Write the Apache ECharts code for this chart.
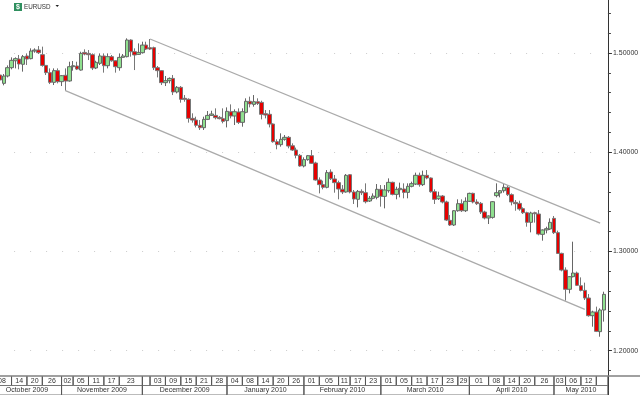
<!DOCTYPE html>
<html>
<head>
<meta charset="utf-8">
<style>html,body{margin:0;padding:0;background:#fff}#main{width:640px;height:395px}</style>
<script src="https://cdn.jsdelivr.net/npm/echarts@6/dist/echarts.min.js"></script>
</head>
<body>
<div id="main"></div>
<script>
// EURUSD daily candles
var opens = [1.4778,1.4694,1.4768,1.4852,1.4922,1.4939,1.4886,1.4970,1.4943,1.5020,1.5030,1.4983,1.4875,1.4802,1.4704,1.4822,1.4711,1.4775,1.4718,1.4862,1.4869,1.4828,1.5006,1.4996,1.4983,1.4849,1.4896,1.4970,1.4872,1.4963,1.4922,1.4852,1.4956,1.4963,1.5131,1.5013,1.4986,1.5003,1.5080,1.5054,
  1.5054,1.4852,1.4822,1.4701,1.4721,1.4744,1.4607,1.4654,1.4543,1.4533,1.4341,1.4324,1.4271,1.4247,1.4331,1.4371,1.4371,1.4351,1.4338,1.4318,1.4408,1.4365,1.4405,1.4301,1.4402,1.4513,1.4482,1.4509,1.4502,1.4388,
  1.4382,1.4284,1.4106,1.4076,1.4130,1.4150,1.4065,1.4022,1.3968,1.3861,1.3925,1.3965,1.3891,1.3720,1.3673,1.3646,1.3800,1.3730,1.3693,1.3626,1.3599,1.3773,1.3599,1.3525,1.3605,1.3592,1.3508,1.3535,1.3545,1.3626,
  1.3555,1.3612,1.3696,1.3575,1.3622,1.3629,1.3595,1.3656,1.3679,1.3767,1.3673,1.3767,1.3740,1.3602,1.3531,1.3558,1.3498,1.3313,1.3266,1.3410,1.3481,1.3410,1.3505,1.3585,1.3498,1.3484,1.3397,1.3337,1.3343,1.3562,
  1.3589,1.3612,1.3646,1.3572,1.3494,1.3484,1.3431,1.3390,1.3293,1.3390,1.3377,1.3172,1.3216,1.3226,1.3333,1.3189,1.2980,1.2812,1.2618,1.2745,1.2782,1.2654,1.2607,1.2530,1.2352,1.2389,1.2191,1.2409];
var closes = [1.4728,1.4768,1.4852,1.4926,1.4943,1.4889,1.4963,1.4939,1.5020,1.5030,1.5003,1.4875,1.4802,1.4704,1.4822,1.4711,1.4771,1.4718,1.4862,1.4872,1.4838,1.4996,1.4990,1.4983,1.4849,1.4906,1.4970,1.4872,1.4963,1.4922,1.4862,1.4956,1.4970,1.5131,1.5013,1.4980,1.5006,1.5080,1.5040,1.5040,
  1.4852,1.4822,1.4701,1.4721,1.4744,1.4607,1.4654,1.4533,1.4533,1.4341,1.4324,1.4271,1.4247,1.4331,1.4371,1.4385,1.4348,1.4338,1.4311,1.4412,1.4365,1.4408,1.4301,1.4408,1.4513,1.4486,1.4509,1.4492,1.4382,1.4375,
  1.4284,1.4106,1.4076,1.4130,1.4150,1.4062,1.4022,1.3968,1.3861,1.3925,1.3965,1.3888,1.3720,1.3673,1.3646,1.3794,1.3733,1.3693,1.3629,1.3599,1.3767,1.3599,1.3528,1.3605,1.3592,1.3501,1.3535,1.3558,1.3626,1.3555,
  1.3619,1.3696,1.3575,1.3626,1.3636,1.3595,1.3656,1.3683,1.3767,1.3673,1.3767,1.3740,1.3602,1.3525,1.3558,1.3498,1.3316,1.3266,1.3410,1.3481,1.3410,1.3505,1.3585,1.3498,1.3481,1.3397,1.3337,1.3357,1.3501,1.3592,
  1.3612,1.3646,1.3572,1.3498,1.3481,1.3427,1.3390,1.3293,1.3387,1.3380,1.3175,1.3216,1.3229,1.3293,1.3189,1.2980,1.2812,1.2618,1.2745,1.2782,1.2658,1.2607,1.2530,1.2352,1.2389,1.2194,1.2409,1.2567];
var lows = [1.4711,1.4674,1.4754,1.4835,1.4845,1.4835,1.4812,1.4879,1.4936,1.5003,1.4990,1.4862,1.4778,1.4687,1.4677,1.4694,1.4667,1.4620,1.4711,1.4822,1.4828,1.4822,1.4976,1.4929,1.4828,1.4838,1.4879,1.4802,1.4845,1.4912,1.4802,1.4822,1.4956,1.4956,1.4963,1.4828,1.4980,1.4996,1.5030,1.5030,
  1.4828,1.4754,1.4677,1.4667,1.4694,1.4576,1.4593,1.4499,1.4509,1.4298,1.4298,1.4250,1.4224,1.4224,1.4324,1.4365,1.4331,1.4331,1.4291,1.4250,1.4341,1.4274,1.4284,1.4257,1.4392,1.4452,1.4459,1.4476,1.4331,1.4341,
  1.4250,1.4096,1.4029,1.4056,1.4116,1.4039,1.4012,1.3938,1.3854,1.3847,1.3914,1.3881,1.3713,1.3585,1.3626,1.3636,1.3720,1.3592,1.3525,1.3578,1.3592,1.3585,1.3478,1.3444,1.3568,1.3484,1.3498,1.3525,1.3525,1.3451,
  1.3434,1.3592,1.3565,1.3525,1.3545,1.3535,1.3535,1.3646,1.3669,1.3652,1.3659,1.3727,1.3592,1.3478,1.3518,1.3484,1.3306,1.3256,1.3256,1.3400,1.3397,1.3397,1.3498,1.3484,1.3468,1.3377,1.3323,1.3276,1.3330,1.3545,
  1.3545,1.3592,1.3558,1.3464,1.3410,1.3410,1.3377,1.3249,1.3192,1.3290,1.3162,1.3108,1.3182,1.3216,1.3175,1.2974,1.2799,1.2503,1.2577,1.2738,1.2651,1.2597,1.2510,1.2342,1.2241,1.2187,1.2140,1.2292];
var highs = [1.4795,1.4788,1.4875,1.4956,1.4956,1.4980,1.4980,1.4996,1.5047,1.5047,1.5070,1.5064,1.4879,1.4845,1.4845,1.4845,1.4778,1.4845,1.4912,1.4919,1.4912,1.5013,1.5037,1.5030,1.4996,1.4922,1.4996,1.4996,1.4996,1.4980,1.4929,1.4996,1.4990,1.5148,1.5138,1.5047,1.5097,1.5114,1.5114,1.5141,
  1.5064,1.4869,1.4828,1.4768,1.4754,1.4778,1.4667,1.4667,1.4576,1.4543,1.4392,1.4358,1.4324,1.4358,1.4415,1.4418,1.4442,1.4365,1.4442,1.4452,1.4482,1.4432,1.4442,1.4442,1.4543,1.4560,1.4576,1.4543,1.4519,1.4425,
  1.4425,1.4291,1.4130,1.4190,1.4173,1.4163,1.4089,1.4046,1.3982,1.3948,1.3972,1.4022,1.3904,1.3746,1.3713,1.3820,1.3827,1.3770,1.3713,1.3669,1.3780,1.3780,1.3619,1.3619,1.3626,1.3686,1.3558,1.3585,1.3679,1.3669,
  1.3669,1.3736,1.3703,1.3652,1.3693,1.3686,1.3686,1.3703,1.3794,1.3794,1.3814,1.3820,1.3746,1.3626,1.3602,1.3568,1.3511,1.3367,1.3417,1.3525,1.3525,1.3545,1.3592,1.3592,1.3525,1.3498,1.3410,1.3363,1.3508,1.3686,
  1.3619,1.3679,1.3669,1.3585,1.3518,1.3511,1.3444,1.3400,1.3400,1.3400,1.3417,1.3222,1.3249,1.3333,1.3357,1.3209,1.2987,1.2839,1.2752,1.3098,1.2796,1.2738,1.2685,1.2570,1.2402,1.2443,1.2426,1.2594];

// channel lines: [candle index, price]
var upperChannel = [[39, 1.5141], [156, 1.3286]];
var lowerChannel = [[17, 1.4620], [152, 1.2416]];

// date strip: each cell starts at a candle index
var dayLabels = ['08','14','20','26','02','05','11','17','23','','03','09','15','21','28','04','08','14','20','26','01','05','11','17','23','01','05','11','17','23','29','01','08','14','20','26','03','06','12',''];
var dayStarts = [-2,3,7,11,16,19,23,27,31,37,39,43,47,51,55,59,63,67,71,75,79,83,88,91,95,99,103,107,111,115,119,122,127,131,135,139,144,147,151,155,158];
var monthLabels = ['October 2009','November 2009','December 2009','January 2010','February 2010','March 2010','April 2010','May 2010'];
var monthStarts = [-2,16,37,59,79,99,122,144,158];

var categories = opens.map(function (v, i) { return String(i); });
var candles = opens.map(function (v, i) { return [v, closes[i], lows[i], highs[i]]; });

var FONT = 'Liberation Sans';

function cells(starts) {
  return starts.slice(0, -1).map(function (s, i) { return [s, starts[i + 1]]; });
}

// draws one row of the date strip
function stripRow(labels, top, bottom) {
  return function (params, api) {
    var a = api.coord([api.value(0), top]);
    var b = api.coord([api.value(1), bottom]);
    var st = { stroke: '#555', lineWidth: 1 };
    return {
      type: 'group',
      children: [
        { type: 'line', shape: { x1: a[0], y1: a[1], x2: a[0], y2: b[1] }, style: st },
        { type: 'line', shape: { x1: b[0], y1: a[1], x2: b[0], y2: b[1] }, style: st },
        { type: 'line', shape: { x1: a[0], y1: b[1], x2: b[0], y2: b[1] }, style: { stroke: '#777', lineWidth: 1 } },
        { type: 'text', style: {
          x: (a[0] + b[0]) / 2, y: (a[1] + b[1]) / 2,
          text: labels[params.dataIndex], fill: '#333',
          font: '7px "' + FONT + '"', align: 'center', verticalAlign: 'middle'
        } }
      ]
    };
  };
}

var myChart = echarts.init(document.getElementById('main'), null, { renderer: 'canvas' });

var option = {
  animation: false,
  backgroundColor: '#fff',
  grid: [
    { left: -1.92, width: 607.85, top: -46.2, height: 496, outerBoundsMode: 'none' },
    { left: -1.92, width: 607.85, top: 376, height: 19, outerBoundsMode: 'none' }
  ],
  xAxis: [
    { type: 'category', data: categories, show: false, gridIndex: 0 },
    { type: 'value', min: -0.5, max: 157.5, show: false, gridIndex: 1 }
  ],
  yAxis: [
    {
      type: 'value', position: 'right', offset: 2, gridIndex: 0,
      min: 1.1, max: 1.6, interval: 0.1,
      axisLine: { show: true, lineStyle: { color: '#333', width: 1 } },
      axisTick: { show: true, length: 4, lineStyle: { color: '#333' } },
      minorTick: { show: true, splitNumber: 5, length: 3, lineStyle: { color: '#444' } },
      axisLabel: {
        color: '#333', fontFamily: FONT, fontSize: 7, margin: 5,
        formatter: function (v) { return v.toFixed(5); }
      },
      splitLine: { show: true, lineStyle: { color: '#ccc', width: 1, type: [1, 15] } }
    },
    { type: 'value', min: 0, max: 2, show: false, gridIndex: 1 }
  ],
  series: [
    {
      type: 'candlestick',
      data: candles,
      barWidth: 4,
      itemStyle: {
        color: '#8fe08f', color0: '#e60000',
        borderColor: '#666', borderColor0: '#777', borderWidth: 1
      },
      markLine: {
        silent: true,
        symbol: 'none',
        label: { show: false },
        lineStyle: { color: '#aaa', width: 1.3, type: 'solid' },
        data: [upperChannel, lowerChannel].map(function (l) {
          return [{ coord: l[0] }, { coord: l[1] }];
        })
      }
    },
    {
      type: 'custom', xAxisIndex: 1, yAxisIndex: 1,
      data: cells(dayStarts), encode: { x: [0, 1] },
      renderItem: stripRow(dayLabels, 2, 1), silent: true
    },
    {
      type: 'custom', xAxisIndex: 1, yAxisIndex: 1,
      data: cells(monthStarts), encode: { x: [0, 1] },
      renderItem: stripRow(monthLabels, 1, 0), silent: true
    }
  ],
  graphic: [
    // hides the axis ticks that run on below the plot
    { type: 'rect', z: 100, shape: { x: 609, y: 377, width: 31, height: 18 }, style: { fill: '#fff' } },
    { type: 'line', z: 101, shape: { x1: 0, y1: 376, x2: 640, y2: 376 }, style: { stroke: '#808080', lineWidth: 1.5 } },
    // symbol header
    { type: 'rect', z: 101, shape: { x: 14, y: 3, width: 8, height: 8 }, style: { fill: '#2f8f5f' } },
    { type: 'text', z: 102, style: { x: 18, y: 7, text: '$', fill: '#fff', font: 'bold 7px "' + FONT + '"', align: 'center', verticalAlign: 'middle' } },
    { type: 'text', z: 101, style: { x: 24, y: 7, text: 'EURUSD', fill: '#333', font: '6.3px "' + FONT + '"', verticalAlign: 'middle' } },
    { type: 'polygon', z: 101, shape: { points: [[55.5, 5], [59, 5], [57.25, 7]] }, style: { fill: '#222' } }
  ]
};

myChart.setOption(option);
</script>
</body>
</html>
